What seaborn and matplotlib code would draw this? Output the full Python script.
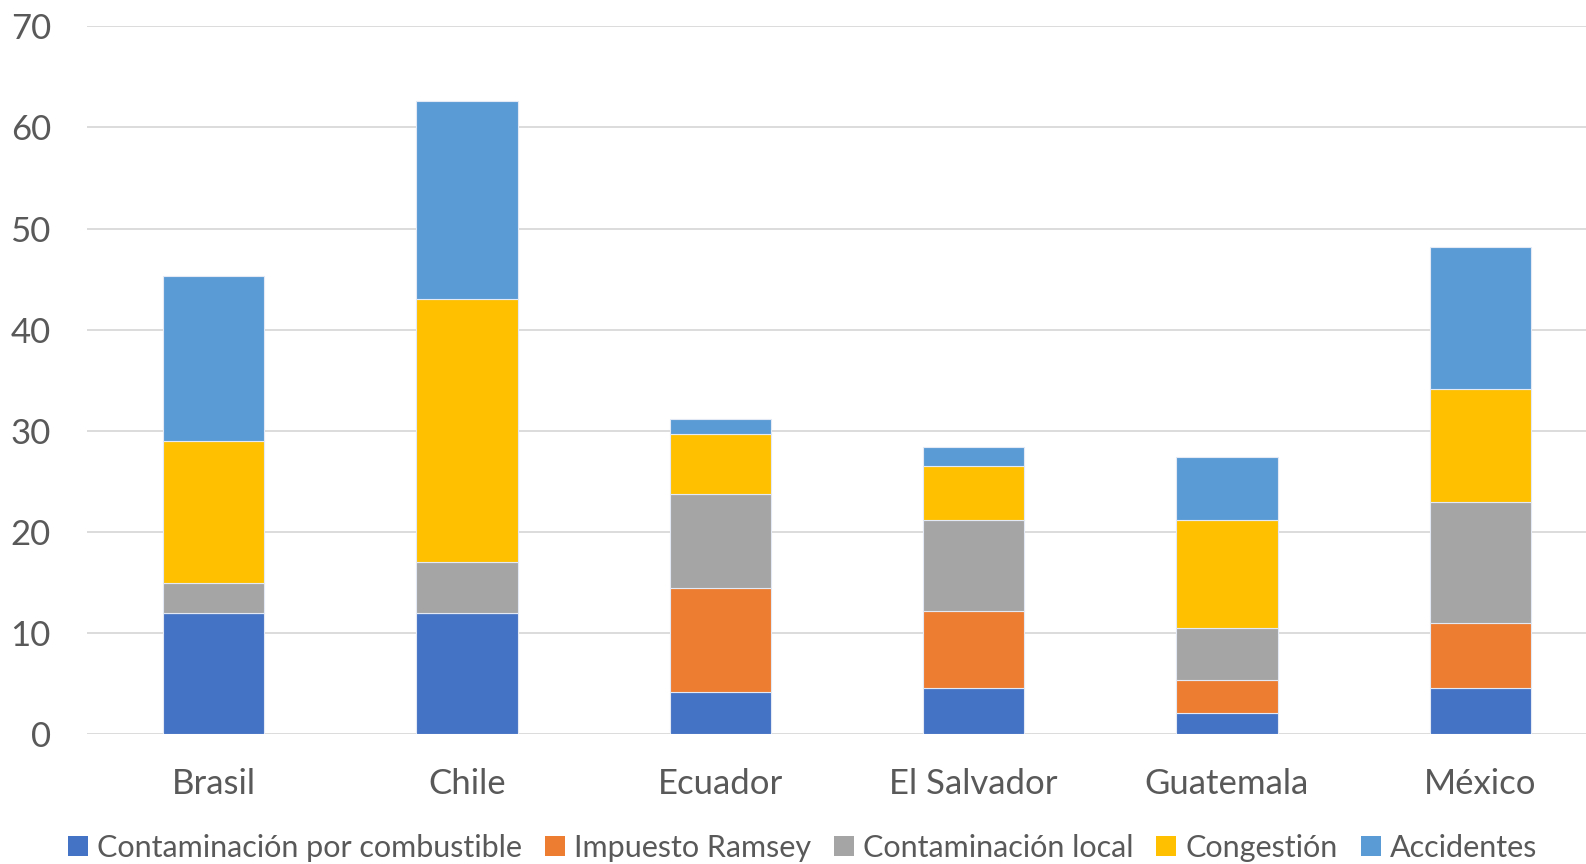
import matplotlib
matplotlib.use("Agg")
import matplotlib.pyplot as plt
import seaborn as sns
import numpy as np
from matplotlib.patches import Patch

paises = ["Brasil", "Chile", "Ecuador", "El Salvador", "Guatemala", "México"]
combustible = [12.0, 12.0, 4.2, 4.6, 2.1, 4.6]
ramsey = [0.0, 0.0, 10.3, 7.6, 3.3, 6.4]
local = [3.0, 5.0, 9.3, 9.0, 5.1, 12.0]
congestion = [14.0, 26.0, 5.9, 5.3, 10.7, 11.1]
accidentes = [16.3, 19.6, 1.5, 1.9, 6.2, 14.1]

series = ["Contaminación por combustible", "Impuesto Ramsey",
          "Contaminación local", "Congestión", "Accidentes"]
colores = ["#4472C4", "#ED7D31", "#A5A5A5", "#FFC000", "#5B9BD5"]

sns.set_theme(style="white")
plt.rcParams["font.family"] = ["Lato", "DejaVu Sans"]
texto = "#595959"

fig = plt.figure(figsize=(15.86, 8.64), dpi=100)
ax = fig.add_axes([87 / 1586, (864 - 734.3) / 864, (1607 - 87) / 1586, (734.3 - 26.3) / 864])

base = np.zeros(len(paises))
for vals, col in zip([combustible, ramsey, local, congestion, accidentes], colores):
    sns.barplot(x=paises, y=vals, color=col, saturation=1, width=0.4,
                bottom=base.copy(), edgecolor="#e3eaf5", linewidth=0.8,
                ax=ax, zorder=3)
    base += np.array(vals)

ax.set_xlim(-0.5, len(paises) - 0.5)
ax.set_ylim(0, 70)
ax.set_yticks(range(0, 71, 10))
ax.yaxis.grid(True, color="#d9d9d9", linewidth=1.3, zorder=0)
ax.xaxis.grid(False)
for s in ax.spines.values():
    s.set_visible(False)
ax.tick_params(axis="both", length=0, labelsize=25, colors=texto)
ax.tick_params(axis="x", pad=24)
ax.tick_params(axis="y", pad=26)
ax.set_xlabel("")
ax.set_ylabel("")

handles = [Patch(facecolor=c, edgecolor="none") for c in colores]
fig.legend(handles, series, loc="center", bbox_to_anchor=(0.506, 0.019), ncol=5,
           frameon=False, fontsize=22, labelcolor=texto, handlelength=0.65,
           handleheight=0.65, handletextpad=0.3, columnspacing=0.75)

fig.savefig("out.png", dpi=100)
